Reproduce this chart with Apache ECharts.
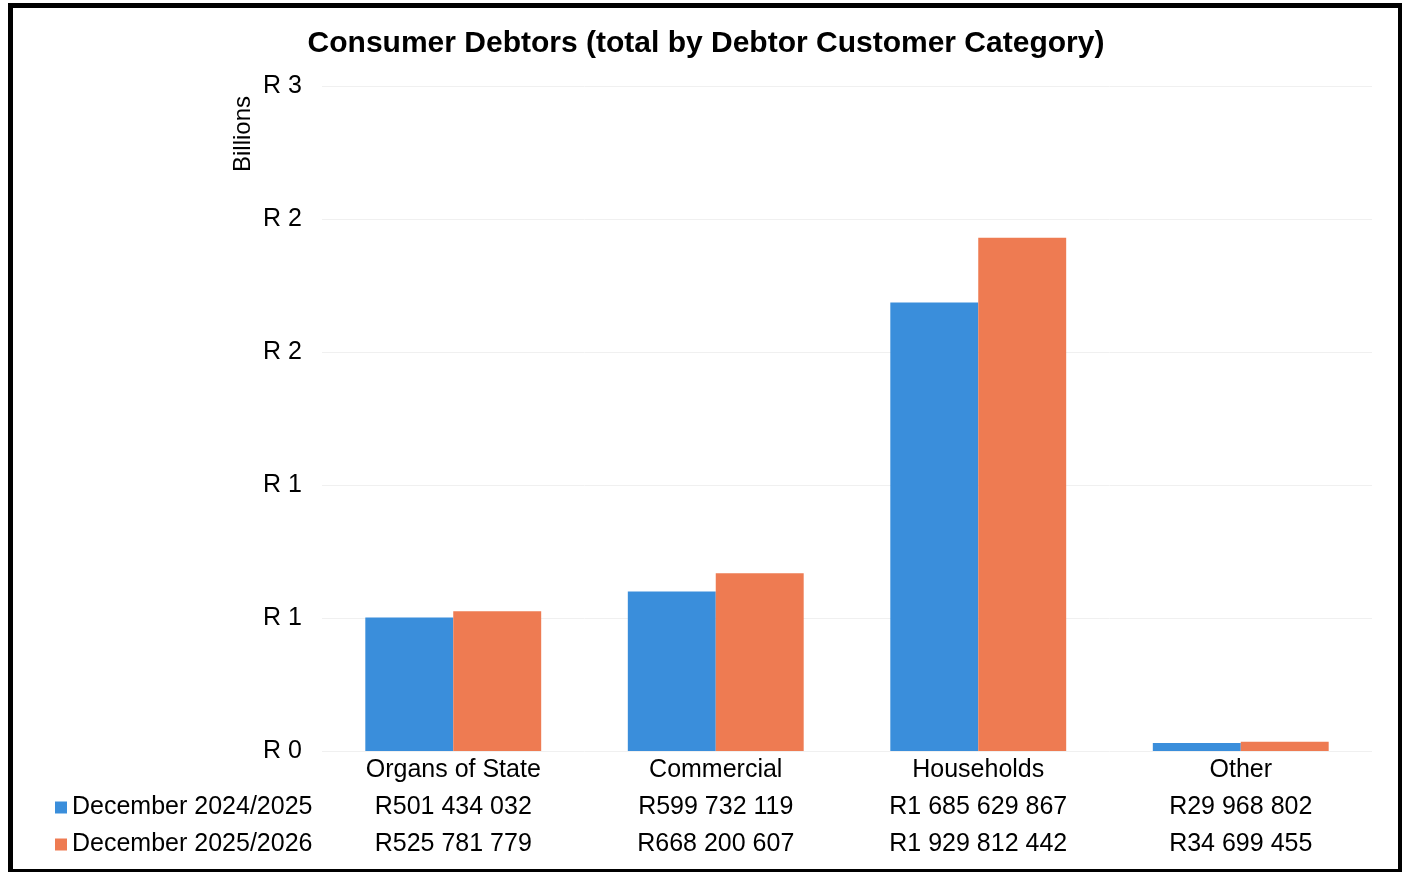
<!DOCTYPE html>
<html>
<head>
<meta charset="utf-8">
<script src="https://cdn.jsdelivr.net/npm/echarts@6/dist/echarts.min.js"></script>
<style>
html,body{margin:0;padding:0;background:#fff;}
#chart{width:1402px;height:872px;}
</style>
</head>
<body>
<div id="chart"></div>
<script>
var categories = ['Organs of State', 'Commercial', 'Households', 'Other'];
var seriesNames = ['December 2024/2025', 'December 2025/2026'];
var dec2024 = [501434032, 599732119, 1685629867, 29968802];
var dec2025 = [525781779, 668200607, 1929812442, 34699455];
var yTickLabels = ['R 0', 'R 1', 'R 1', 'R 2', 'R 2', 'R 3'];
var titleText = 'Consumer Debtors (total by Debtor Customer Category)';
var yUnitLabel = 'Billions';

function fmtRand(v) {
  return 'R' + String(v).replace(/\B(?=(\d{3})+(?!\d))/g, ' ');
}

var font = '"Liberation Sans", Arial, sans-serif';
var chart = echarts.init(document.getElementById('chart'));
chart.setOption({
  backgroundColor: '#ffffff',
  animation: false,
  title: {
    text: titleText,
    left: 701, textAlign: 'center', top: 24,
    textStyle: { fontFamily: font, fontSize: 30, fontWeight: 'bold', color: '#000' }
  },
  legend: {
    data: seriesNames,
    orient: 'vertical',
    left: 50, top: 784,
    itemWidth: 12, itemHeight: 12, itemGap: 0,
    icon: 'rect',
    textStyle: { fontFamily: font, fontSize: 25, color: '#000', lineHeight: 37, padding: [0,0,0,0] }
  },
  grid: { left: 322, right: 30, top: 86, bottom: 121, containLabel: false },
  xAxis: {
    type: 'category',
    data: categories,
    axisLine: { show: false },
    axisTick: { show: false },
    axisLabel: {
      margin: 1,
      interval: 0,
      fontFamily: font, fontSize: 25, color: '#000', lineHeight: 37,
      formatter: function (v, i) {
        return v + '\n' + fmtRand(dec2024[i]) + '\n' + fmtRand(dec2025[i]);
      }
    }
  },
  yAxis: {
    type: 'value',
    min: 0, max: 2500000000, interval: 500000000,
    axisLine: { show: false },
    axisTick: { show: false },
    splitLine: { lineStyle: { color: '#f0f0f0', width: 1 } },
    axisLabel: {
      margin: 20,
      fontFamily: font, fontSize: 25, color: '#000',
      padding: [4, 0, 0, 0],
      formatter: function (v, i) { return yTickLabels[i]; }
    }
  },
  graphic: [
    {
      type: 'text', left: 231, top: 96, rotation: Math.PI / 2,
      style: { text: yUnitLabel, font: '24px "Liberation Sans", Arial, sans-serif', fill: '#000' }
    },
    {
      type: 'rect', left: 8, top: 3, z: 100,
      shape: { width: 1390, height: 866 },
      style: { fill: 'none', stroke: '#000', lineWidth: 5 }
    }
  ],
  series: [
    {
      name: seriesNames[0], type: 'bar', data: dec2024,
      barGap: '0%', barCategoryGap: '33%',
      itemStyle: { color: '#3a8edb' }
    },
    {
      name: seriesNames[1], type: 'bar', data: dec2025,
      itemStyle: { color: '#ee7b52' }
    }
  ]
});
</script>
</body>
</html>
